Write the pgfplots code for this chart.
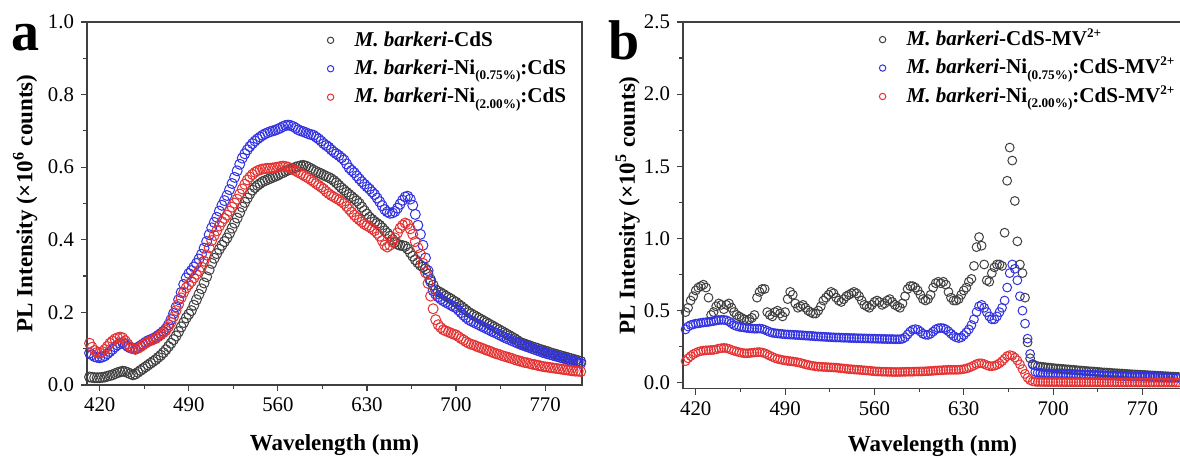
\documentclass[border=0pt]{standalone}
\usepackage{fontspec}
\setmainfont{Liberation Serif}
\usepackage{pgfplots}
\usepackage{pgfplotstable}
\pgfplotsset{compat=1.18}
\definecolor{cK}{RGB}{64,64,64}
\definecolor{cB}{RGB}{50,50,225}
\definecolor{cR}{RGB}{228,50,50}

\pgfplotstableread{
x k b r
412 0.022 0.088 0.115
414 0.021 0.083 0.104
416 0.020 0.078 0.095
418 0.020 0.076 0.090
420 0.020 0.075 0.088
422 0.021 0.077 0.092
424 0.022 0.080 0.098
426 0.024 0.086 0.106
428 0.026 0.092 0.115
430 0.028 0.098 0.121
432 0.031 0.105 0.127
434 0.034 0.110 0.130
436 0.036 0.115 0.132
438 0.038 0.117 0.130
440 0.037 0.112 0.122
442 0.034 0.106 0.113
444 0.031 0.102 0.105
446 0.028 0.100 0.100
448 0.030 0.100 0.098
450 0.035 0.104 0.101
452 0.040 0.108 0.105
454 0.045 0.113 0.110
456 0.050 0.118 0.115
458 0.055 0.122 0.119
460 0.060 0.125 0.122
462 0.065 0.128 0.125
464 0.070 0.132 0.128
466 0.076 0.137 0.133
468 0.082 0.142 0.138
470 0.089 0.148 0.144
472 0.097 0.155 0.150
474 0.106 0.166 0.160
476 0.115 0.180 0.172
478 0.125 0.197 0.188
480 0.135 0.215 0.205
482 0.147 0.235 0.222
484 0.160 0.255 0.240
486 0.172 0.277 0.255
488 0.185 0.295 0.268
490 0.195 0.307 0.277
492 0.205 0.315 0.285
494 0.220 0.325 0.295
496 0.235 0.335 0.305
498 0.250 0.347 0.315
500 0.265 0.360 0.325
502 0.281 0.377 0.341
504 0.298 0.395 0.358
506 0.317 0.414 0.378
508 0.335 0.433 0.398
510 0.349 0.448 0.412
512 0.362 0.462 0.425
514 0.374 0.479 0.438
516 0.385 0.495 0.450
518 0.395 0.508 0.459
520 0.405 0.522 0.468
522 0.418 0.538 0.479
524 0.432 0.555 0.490
526 0.446 0.572 0.501
528 0.460 0.590 0.512
530 0.475 0.608 0.526
532 0.490 0.625 0.540
534 0.503 0.637 0.553
536 0.515 0.648 0.565
538 0.527 0.657 0.573
540 0.537 0.665 0.580
542 0.544 0.672 0.586
544 0.550 0.678 0.590
546 0.555 0.683 0.593
548 0.560 0.688 0.595
550 0.563 0.692 0.596
552 0.566 0.695 0.597
554 0.569 0.698 0.597
556 0.572 0.700 0.598
558 0.575 0.702 0.599
560 0.578 0.705 0.600
562 0.582 0.708 0.602
564 0.585 0.712 0.603
566 0.589 0.715 0.602
568 0.592 0.716 0.600
570 0.595 0.715 0.597
572 0.597 0.712 0.593
574 0.600 0.708 0.590
576 0.602 0.703 0.586
578 0.604 0.700 0.582
580 0.605 0.698 0.578
582 0.603 0.695 0.574
584 0.600 0.692 0.570
586 0.596 0.690 0.565
588 0.592 0.688 0.560
590 0.588 0.683 0.555
592 0.585 0.678 0.550
594 0.582 0.672 0.545
596 0.578 0.665 0.540
598 0.575 0.660 0.533
600 0.572 0.655 0.527
602 0.568 0.648 0.522
604 0.563 0.642 0.518
606 0.557 0.637 0.514
608 0.550 0.632 0.510
610 0.543 0.626 0.505
612 0.537 0.620 0.500
614 0.531 0.609 0.492
616 0.525 0.598 0.484
618 0.519 0.591 0.476
620 0.513 0.585 0.468
622 0.507 0.576 0.461
624 0.500 0.568 0.455
626 0.490 0.560 0.449
628 0.480 0.553 0.443
630 0.471 0.546 0.439
632 0.462 0.540 0.435
634 0.456 0.532 0.430
636 0.450 0.525 0.425
638 0.445 0.515 0.418
640 0.440 0.505 0.410
642 0.433 0.494 0.398
644 0.425 0.483 0.385
646 0.418 0.477 0.380
648 0.410 0.473 0.385
650 0.401 0.474 0.394
652 0.393 0.478 0.405
654 0.388 0.487 0.419
656 0.385 0.498 0.432
658 0.384 0.509 0.440
660 0.382 0.518 0.446
662 0.375 0.520 0.443
664 0.365 0.512 0.430
666 0.355 0.495 0.415
668 0.345 0.470 0.395
670 0.337 0.440 0.378
672 0.330 0.415 0.360
674 0.325 0.385 0.335
676 0.320 0.350 0.310
678 0.305 0.315 0.280
680 0.290 0.285 0.245
682 0.275 0.260 0.210
684 0.262 0.250 0.180
686 0.258 0.243 0.166
688 0.254 0.237 0.158
690 0.250 0.232 0.152
692 0.245 0.228 0.149
694 0.241 0.224 0.146
696 0.237 0.220 0.143
698 0.232 0.216 0.140
700 0.228 0.213 0.138
702 0.222 0.206 0.133
704 0.217 0.199 0.128
706 0.211 0.192 0.124
708 0.206 0.186 0.119
710 0.200 0.180 0.115
712 0.196 0.176 0.112
714 0.192 0.173 0.110
716 0.188 0.169 0.107
718 0.184 0.166 0.104
720 0.180 0.162 0.102
722 0.176 0.159 0.099
724 0.172 0.155 0.096
726 0.168 0.152 0.094
728 0.164 0.148 0.091
730 0.160 0.145 0.088
732 0.156 0.142 0.086
734 0.152 0.138 0.084
736 0.148 0.135 0.081
738 0.144 0.131 0.079
740 0.140 0.128 0.077
742 0.136 0.125 0.075
744 0.132 0.122 0.073
746 0.128 0.119 0.070
748 0.123 0.116 0.068
750 0.118 0.113 0.066
752 0.115 0.110 0.064
754 0.113 0.108 0.062
756 0.110 0.105 0.061
758 0.108 0.103 0.059
760 0.105 0.100 0.057
762 0.103 0.098 0.056
764 0.101 0.095 0.054
766 0.098 0.093 0.053
768 0.096 0.090 0.051
770 0.094 0.088 0.050
772 0.092 0.086 0.049
774 0.089 0.084 0.048
776 0.087 0.082 0.047
778 0.085 0.080 0.046
780 0.083 0.078 0.045
782 0.081 0.076 0.044
784 0.079 0.074 0.043
786 0.077 0.072 0.042
788 0.075 0.070 0.041
790 0.073 0.068 0.040
792 0.071 0.066 0.039
794 0.069 0.064 0.038
796 0.067 0.062 0.038
798 0.065 0.060 0.037
}\tabA

\pgfplotstableread{
x k b r
412 0.49 0.370 0.150
414 0.52 0.390 0.170
416 0.57 0.400 0.185
418 0.60 0.405 0.198
420 0.64 0.410 0.207
422 0.66 0.412 0.215
424 0.67 0.415 0.220
426 0.68 0.418 0.223
428 0.66 0.420 0.225
430 0.59 0.422 0.226
432 0.47 0.425 0.227
434 0.49 0.428 0.228
436 0.53 0.432 0.232
438 0.55 0.435 0.237
440 0.54 0.436 0.240
442 0.51 0.436 0.242
444 0.54 0.433 0.240
446 0.55 0.425 0.235
448 0.52 0.412 0.228
450 0.49 0.400 0.222
452 0.47 0.393 0.217
454 0.46 0.388 0.212
456 0.45 0.385 0.208
458 0.44 0.383 0.205
460 0.43 0.380 0.205
462 0.44 0.378 0.206
464 0.45 0.376 0.208
466 0.47 0.375 0.210
468 0.59 0.375 0.212
470 0.63 0.376 0.213
472 0.65 0.374 0.210
474 0.65 0.368 0.205
476 0.49 0.360 0.197
478 0.47 0.352 0.188
480 0.46 0.347 0.180
482 0.49 0.344 0.172
484 0.50 0.342 0.166
486 0.48 0.340 0.162
488 0.46 0.338 0.158
490 0.49 0.336 0.155
492 0.58 0.335 0.152
494 0.63 0.334 0.150
496 0.61 0.333 0.148
498 0.55 0.332 0.145
500 0.52 0.331 0.142
502 0.53 0.330 0.138
504 0.54 0.329 0.133
506 0.52 0.327 0.128
508 0.50 0.326 0.124
510 0.49 0.325 0.120
512 0.48 0.324 0.117
514 0.48 0.322 0.114
516 0.50 0.321 0.112
518 0.53 0.320 0.111
520 0.57 0.319 0.110
522 0.59 0.318 0.109
524 0.61 0.317 0.108
526 0.63 0.316 0.107
528 0.62 0.315 0.106
530 0.59 0.314 0.105
532 0.57 0.314 0.103
534 0.56 0.313 0.101
536 0.58 0.312 0.099
538 0.60 0.312 0.097
540 0.61 0.311 0.095
542 0.62 0.310 0.094
544 0.63 0.310 0.092
546 0.62 0.309 0.091
548 0.60 0.309 0.090
550 0.57 0.308 0.088
552 0.54 0.308 0.087
554 0.53 0.307 0.085
556 0.52 0.307 0.084
558 0.54 0.306 0.082
560 0.56 0.306 0.080
562 0.57 0.305 0.079
564 0.56 0.305 0.078
566 0.54 0.304 0.077
568 0.55 0.304 0.077
570 0.57 0.303 0.076
572 0.58 0.303 0.076
574 0.56 0.303 0.075
576 0.54 0.302 0.075
578 0.53 0.302 0.075
580 0.52 0.302 0.075
582 0.55 0.305 0.076
584 0.60 0.315 0.076
586 0.65 0.335 0.077
588 0.67 0.355 0.077
590 0.67 0.368 0.077
592 0.66 0.372 0.078
594 0.64 0.368 0.078
596 0.61 0.355 0.079
598 0.58 0.340 0.079
600 0.57 0.333 0.080
602 0.58 0.332 0.081
604 0.61 0.340 0.082
606 0.66 0.355 0.083
608 0.69 0.370 0.085
610 0.70 0.378 0.086
612 0.69 0.380 0.087
614 0.70 0.378 0.088
616 0.68 0.370 0.089
618 0.63 0.357 0.090
620 0.59 0.340 0.090
622 0.57 0.325 0.090
624 0.57 0.315 0.090
626 0.58 0.310 0.091
628 0.61 0.315 0.092
630 0.64 0.330 0.095
632 0.66 0.350 0.099
634 0.70 0.370 0.105
636 0.72 0.400 0.112
638 0.81 0.440 0.120
640 0.94 0.490 0.130
642 1.01 0.530 0.135
644 0.95 0.540 0.135
646 0.82 0.520 0.130
648 0.71 0.490 0.122
650 0.70 0.460 0.116
652 0.76 0.440 0.115
654 0.80 0.440 0.118
656 0.82 0.460 0.125
658 0.82 0.490 0.135
660 0.81 0.520 0.150
662 1.04 0.570 0.168
664 1.40 0.660 0.185
666 1.63 0.760 0.192
668 1.54 0.820 0.188
670 1.26 0.790 0.175
672 0.98 0.710 0.155
674 0.82 0.600 0.128
676 0.76 0.500 0.095
678 0.59 0.410 0.062
680 0.28 0.306 0.035
682 0.17 0.200 0.018
684 0.13 0.126 0.010
686 0.12 0.076 0.007
688 0.115 0.070 0.006
690 0.112 0.068 0.006
692 0.110 0.067 0.006
694 0.108 0.066 0.005
696 0.106 0.065 0.005
698 0.104 0.064 0.005
700 0.102 0.064 0.005
702 0.100 0.063 0.005
704 0.099 0.063 0.005
706 0.097 0.062 0.005
708 0.096 0.062 0.005
710 0.094 0.061 0.004
712 0.093 0.061 0.004
714 0.091 0.060 0.004
716 0.090 0.059 0.004
718 0.088 0.059 0.004
720 0.086 0.058 0.004
722 0.085 0.057 0.004
724 0.083 0.057 0.004
726 0.082 0.056 0.004
728 0.080 0.055 0.004
730 0.079 0.055 0.004
732 0.078 0.054 0.004
734 0.076 0.054 0.004
736 0.075 0.053 0.004
738 0.073 0.053 0.003
740 0.072 0.052 0.003
742 0.071 0.051 0.003
744 0.070 0.051 0.003
746 0.068 0.050 0.003
748 0.067 0.050 0.003
750 0.066 0.049 0.003
752 0.065 0.048 0.003
754 0.064 0.048 0.003
756 0.062 0.047 0.003
758 0.061 0.047 0.003
760 0.060 0.046 0.003
762 0.059 0.045 0.003
764 0.058 0.045 0.003
766 0.057 0.044 0.003
768 0.056 0.044 0.003
770 0.055 0.043 0.003
772 0.054 0.042 0.003
774 0.053 0.042 0.002
776 0.052 0.041 0.002
778 0.051 0.041 0.002
780 0.050 0.040 0.002
782 0.049 0.039 0.002
784 0.048 0.039 0.002
786 0.047 0.038 0.002
788 0.046 0.038 0.002
790 0.045 0.037 0.002
792 0.044 0.036 0.002
794 0.043 0.036 0.002
796 0.042 0.035 0.002
798 0.041 0.034 0.002
}\tabB

\newcommand{\lsub}[1]{\raisebox{-0.55ex}{\fontsize{6.6}{7}\selectfont #1}}
\newcommand{\lsup}[1]{\smash{\raisebox{0.85ex}{\fontsize{6.6}{7}\selectfont #1}}}

\pgfplotsset{
 pl/.style={
  scale only axis,
  xmin=410,
  xtick={420,490,560,630,700,770},
  minor x tick num=1, minor y tick num=1,
  xtick pos=bottom, ytick pos=left,
  tick align=outside,
  major tick length=3pt, minor tick length=1.8pt,
  axis line style={line width=0.6pt, color=black!75},
  every tick/.style={line width=0.6pt, black!75},
  tick label style={font=\fontsize{10.4}{12}\selectfont},
  /pgf/number format/assume math mode=true,
  yticklabel style={/pgf/number format/.cd, fixed, fixed zerofill, precision=1},
  xticklabel style={/pgf/number format/1000 sep={}},
  label style={font=\fontsize{11.5}{13}\selectfont\bfseries},
  legend cell align=left,
  legend style={draw=none, fill=none, inner sep=0pt, row sep=1.2pt,
    font=\fontsize{10.55}{12.5}\selectfont\bfseries},
  legend image code/.code={\draw[##1, mark size=1.6pt, line width=0.4pt] plot[only marks] coordinates {(0pt,0pt)}; \path[draw=none,fill=none] (-1.8pt,0pt) (10pt,0pt);},
 },
 mk/.style={only marks, mark=o, mark size=#1, mark options={line width=0.5pt}},
}

\begin{document}
\begin{tikzpicture}[x=1pt,y=1pt]
\useasboundingbox (0,0) rectangle (590,229);
\clip (0,0) rectangle (590,229);
\begin{axis}[pl, at={(43.5pt,36.5pt)}, anchor=south west,
  width=247.5pt, height=181.5pt, xmax=799, ymin=0, ymax=1,
  ytick={0,0.2,0.4,0.6,0.8,1},
  xlabel={Wavelength (nm)},
  ylabel={PL Intensity (×10\textsuperscript{6} counts)},
  xlabel style={at={(axis description cs:0.5,-0.165)}, anchor=center},
  ylabel style={at={(axis description cs:-0.125,0.5)}, anchor=center},
  legend style={at={(rel axis cs:0.484,0.986)}, anchor=north west, row sep=1.4pt},
]
\addplot[mk=2.5pt, cK] table[x=x,y=k] {\tabA};
\addlegendentry{\textit{M. barkeri}-CdS}
\addplot[mk=2.5pt, cB] table[x=x,y=b] {\tabA};
\addlegendentry{\textit{M. barkeri}-Ni\lsub{(0.75\%)}:CdS}
\addplot[mk=2.5pt, cR] table[x=x,y=r] {\tabA};
\addlegendentry{\textit{M. barkeri}-Ni\lsub{(2.00\%)}:CdS}
\end{axis}
\begin{axis}[pl, at={(341.5pt,34.7pt)}, anchor=south west,
  width=249.5pt, height=183.3pt, xmax=801, ymin=-0.04, ymax=2.5,
  ytick={0,0.5,1,1.5,2,2.5},
  xlabel={Wavelength (nm)},
  ylabel={PL Intensity (×10\textsuperscript{5} counts)},
  xlabel style={at={(axis description cs:0.5,-0.158)}, anchor=center},
  ylabel style={at={(axis description cs:-0.111,0.5)}, anchor=center},
  legend style={at={(rel axis cs:0.392,0.988)}, anchor=north west, row sep=1.4pt},
]
\addplot[mk=2.2pt, cK] table[x=x,y=k] {\tabB};
\addlegendentry{\textit{M. barkeri}-CdS-MV\lsup{2+}}
\addplot[mk=2.2pt, cB] table[x=x,y=b] {\tabB};
\addlegendentry{\textit{M. barkeri}-Ni\lsub{(0.75\%)}:CdS-MV\lsup{2+}}
\addplot[mk=2.2pt, cR] table[x=x,y=r] {\tabB};
\addlegendentry{\textit{M. barkeri}-Ni\lsub{(2.00\%)}:CdS-MV\lsup{2+}}
\end{axis}
\node at (12.75,210.25) {\fontsize{28}{30}\selectfont\bfseries a};
\node at (312,208.75) {\fontsize{28}{30}\selectfont\bfseries b};
\end{tikzpicture}
\end{document}
